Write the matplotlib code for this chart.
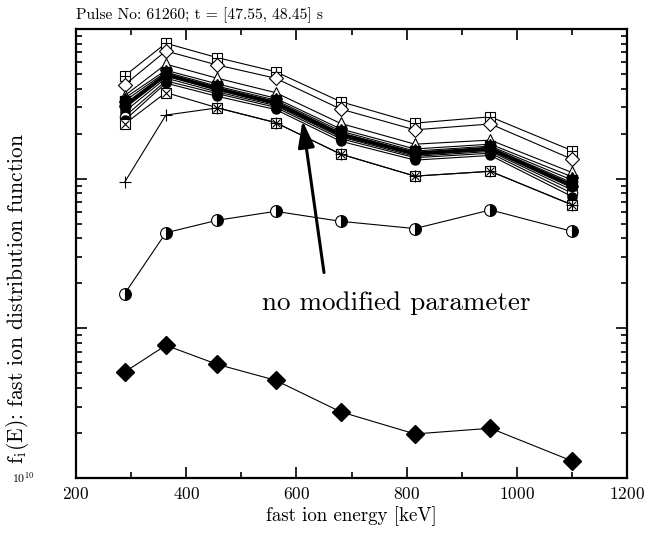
import matplotlib
matplotlib.use("Agg")
import matplotlib.pyplot as plt
import numpy as np

plt.rcParams['font.family'] = ['cmr10', 'DejaVu Serif']
plt.rcParams['mathtext.fontset'] = 'cm'
plt.rcParams['axes.unicode_minus'] = False
plt.rcParams['axes.formatter.use_mathtext'] = True

# ---- data ----
energy = [288, 363, 456, 562, 680, 815, 952, 1100]

s_boxplus = [4.86e12, 8.03e12, 6.44e12, 5.19e12, 3.27e12, 2.35e12, 2.59e12, 1.54e12]
s_open_diamond = [4.23e12, 7.13e12, 5.75e12, 4.69e12, 2.92e12, 2.12e12, 2.32e12, 1.35e12]
s_open_triangle = [3.58e12, 5.82e12, 4.69e12, 3.76e12, 2.34e12, 1.70e12, 1.81e12, 1.10e12]
s_filled_triangle = [3.45e12, 5.30e12, 4.30e12, 3.45e12, 2.15e12, 1.58e12, 1.70e12, 1.03e12]
s_filled_square = [3.30e12, 5.15e12, 4.15e12, 3.35e12, 2.08e12, 1.53e12, 1.65e12, 0.98e12]
s_pentagon = [3.15e12, 5.05e12, 4.05e12, 3.28e12, 2.02e12, 1.50e12, 1.62e12, 0.94e12]
s_reference = [3.05e12, 4.95e12, 4.00e12, 3.20e12, 1.98e12, 1.47e12, 1.58e12, 0.90e12]
s_star = [2.95e12, 4.85e12, 3.90e12, 3.15e12, 1.93e12, 1.44e12, 1.55e12, 0.87e12]
s_hexagon = [2.80e12, 4.70e12, 3.80e12, 3.08e12, 1.90e12, 1.41e12, 1.52e12, 0.84e12]
s_open_circle = [2.60e12, 4.50e12, 3.70e12, 3.00e12, 1.85e12, 1.38e12, 1.48e12, 0.80e12]
s_small_circle = [2.45e12, 4.35e12, 3.55e12, 2.90e12, 1.78e12, 1.33e12, 1.43e12, 0.76e12]
s_boxtimes = [2.32e12, 3.76e12, 2.98e12, 2.37e12, 1.46e12, 1.04e12, 1.12e12, 6.68e11]
s_plus = [9.45e11, 2.66e12, 2.97e12, 2.37e12, 1.46e12, 1.04e12, 1.12e12, 6.70e11]
s_half_circle = [1.70e11, 4.35e11, 5.27e11, 6.05e11, 5.19e11, 4.64e11, 6.18e11, 4.45e11]
s_filled_diamond = [5.1e10, 7.7e10, 5.75e10, 4.5e10, 2.77e10, 1.97e10, 2.15e10, 1.3e10]

title = "Pulse No: 61260; t = [47.55, 48.45] s"
xlabel = "fast ion energy [keV]"
ylabel = r"f$_{\mathrm{i}}$(E): fast ion distribution function"
annotation = "no modified parameter"

fig = plt.figure(figsize=(6.53, 5.40), dpi=100)
ax = fig.add_axes([0.1165, 0.1148, 0.8437, 0.8315])

lw = 0.8
k = 'black'

def line(y, **kw):
    ax.plot(energy, y, color=k, lw=kw.pop('lw', lw), **kw)

line(s_boxplus, marker='s', ms=6.5, mfc='white', mec=k, mew=0.8)
ax.plot(energy, s_boxplus, ls='none', marker='+', ms=6.5, mec=k, mew=0.8)
line(s_open_diamond, marker='D', ms=7, mfc='white', mec=k, mew=0.8)
line(s_open_triangle, marker='^', ms=8.5, mfc='white', mec=k, mew=0.8)
line(s_filled_triangle, marker='^', ms=7.5, mfc=k, mec=k)
line(s_filled_square, marker='s', ms=6.5, mfc=k, mec=k)
line(s_pentagon, marker='p', ms=7.5, mfc=k, mec=k)
line(s_star, marker='*', ms=8.5, mfc=k, mec=k)
line(s_hexagon, marker='h', ms=7.5, mfc=k, mec=k)
line(s_open_circle, marker='o', ms=7.5, mfc='white', mec=k, mew=0.8)
line(s_small_circle, marker='o', ms=6.5, mfc=k, mec=k)
line(s_reference, lw=2.6, marker='o', ms=7.5, mfc=k, mec=k)
line(s_boxtimes, marker='s', ms=6.5, mfc='white', mec=k, mew=0.8)
ax.plot(energy, s_boxtimes, ls='none', marker='x', ms=5.5, mec=k, mew=0.8)
line(s_plus, marker='+', ms=9, mec=k, mew=0.8)
line(s_half_circle, marker='o', ms=8.5, fillstyle='right', mfc=k,
     markerfacecoloralt='white', mec=k, mew=0.8)
line(s_filled_diamond, marker='D', ms=9, mfc=k, mec=k)

ax.set_yscale('log')
ax.set_xlim(200, 1200)
ax.set_ylim(1e10, 1e13)

ax.set_xticks([200, 400, 600, 800, 1000, 1200])
ax.set_xticks([300, 500, 700, 900, 1100], minor=True)
ax.set_yticks([1e10, 1e11, 1e12, 1e13])
ax.set_yticklabels(['', '', '', ''])
ax.tick_params(which='both', direction='in', top=True, right=True, width=1.2)
ax.tick_params(which='major', length=8, labelsize=12.5)
ax.tick_params(which='minor', length=4.5)
ax.tick_params(axis='x', which='major', pad=6)
for sp in ax.spines.values():
    sp.set_linewidth(1.6)

ax.text(-0.116, 0.0, r'$10^{10}$', transform=ax.transAxes, fontsize=8.5,
        ha='left', va='center')

ax.set_title(title, loc='left', fontsize=11.2, pad=7)
ax.set_xlabel(xlabel, fontsize=13.6, labelpad=3)
ax.set_ylabel(ylabel, fontsize=15.5)
ax.yaxis.set_label_coords(-0.082, 0.40)

ax.annotate('', xy=(611, 2.44e12), xytext=(650, 2.36e11),
            arrowprops=dict(arrowstyle='-|>,head_length=1.6,head_width=0.5',
                            color=k, lw=2.2, shrinkA=0, shrinkB=0))
ax.text(782, 1.48e11, annotation, fontsize=19.5, ha='center', va='center')

fig.savefig('out.png', dpi=100)
